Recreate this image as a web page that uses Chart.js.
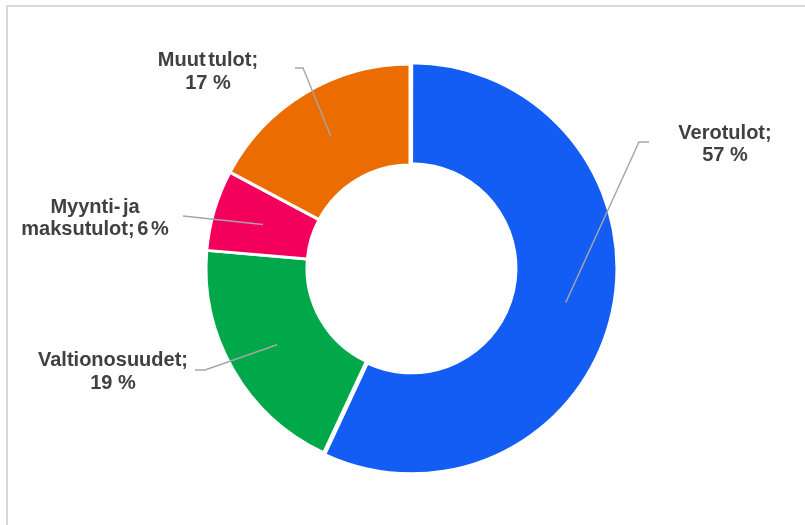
<!DOCTYPE html>
<html>
<head>
<meta charset="utf-8">
<script src="https://cdn.jsdelivr.net/npm/chart.js@4"></script>
<style>
html,body{margin:0;padding:0;background:#fff;}
canvas{display:block;}
</style>
</head>
<body>
<canvas id="c" width="805" height="525"></canvas>
<script>
// Data (clockwise from 12 o'clock)
const categories = ["Verotulot", "Valtionosuudet", "Myynti- ja maksutulot", "Muut tulot"];
const values = [56.9, 19.4, 6.4, 17.2];
const colors = ["#135cf4", "#00a84a", "#f2005c", "#eb6c00"];
// How each label is broken into lines ({p} = rounded percentage)
const labelLines = [
  ["Verotulot;", "{p} %"],
  ["Valtionosuudet;", "{p} %"],
  ["Myynti- ja", "maksutulot; {p} %"],
  ["Muut tulot;", "{p} %"]
];

// Annotation layout (text centre x, first baseline y, leader start, elbow)
const labelLayout = [
  {x: 725, y: 138.5, sx: 649, sy: 142, ex: 639, ey: 142},
  {x: 113, y: 366,   sx: 195, sy: 370, ex: 205, ey: 370},
  {x: 95,  y: 212.5, sx: 183, sy: 216, ex: 183, ey: 216},
  {x: 208, y: 66,    sx: 295, sy: 68,  ex: 303, ey: 68}
];

const total = values.reduce((a, b) => a + b, 0);

const framePlugin = {
  id: 'frame',
  beforeDraw(chart) {
    const ctx = chart.ctx;
    ctx.save();
    ctx.fillStyle = '#ffffff';
    ctx.fillRect(0, 0, chart.width, chart.height);
    ctx.strokeStyle = '#d9d9d9';
    ctx.lineWidth = 2;
    ctx.strokeRect(7, 6, chart.width + 10, chart.height + 10);
    ctx.restore();
  }
};

const labelPlugin = {
  id: 'leaderLabels',
  afterDatasetsDraw(chart) {
    const ctx = chart.ctx;
    const meta = chart.getDatasetMeta(0);
    ctx.save();
    meta.data.forEach((arc, i) => {
      const p = arc.getProps(['x', 'y', 'startAngle', 'endAngle', 'innerRadius', 'outerRadius'], true);
      const mid = (p.startAngle + p.endAngle) / 2;
      const off = arc.options.offset || 0;
      const r = (p.innerRadius + p.outerRadius) / 2 + off;
      const px = p.x + Math.cos(mid) * r;
      const py = p.y + Math.sin(mid) * r;
      const L = labelLayout[i];
      ctx.strokeStyle = '#a6a6a6';
      ctx.lineWidth = 1.4;
      ctx.beginPath();
      ctx.moveTo(L.sx, L.sy);
      ctx.lineTo(L.ex, L.ey);
      ctx.lineTo(px, py);
      ctx.stroke();

      const pct = Math.round(values[i] / total * 100);
      ctx.fillStyle = '#404040';
      ctx.font = 'bold 20px "Liberation Sans", Arial, sans-serif';
      ctx.textAlign = 'center';
      ctx.textBaseline = 'alphabetic';
      labelLines[i].forEach((ln, j) => {
        const pctOnly = ln === '{p} %';
        try { ctx.wordSpacing = pctOnly ? '0px' : '-3px'; } catch (e) {}
        ctx.fillText(ln.replace('{p}', pct), L.x, L.y + j * 22.6);
      });
    });
    ctx.restore();
  }
};

new Chart(document.getElementById('c'), {
  type: 'doughnut',
  data: {
    labels: categories,
    datasets: [{
      data: values,
      backgroundColor: colors,
      borderColor: '#ffffff',
      borderWidth: 3,
      offset: [6, 0, 0, 0],
      hoverOffset: 0
    }]
  },
  options: {
    responsive: false,
    animation: false,
    devicePixelRatio: 1,
    events: [],
    radius: 204,
    cutout: '50.5%',
    layout: {padding: {left: 15, top: 11, right: 0, bottom: 0}},
    plugins: {
      legend: {display: false},
      tooltip: {enabled: false}
    }
  },
  plugins: [framePlugin, labelPlugin]
});
</script>
</body>
</html>
